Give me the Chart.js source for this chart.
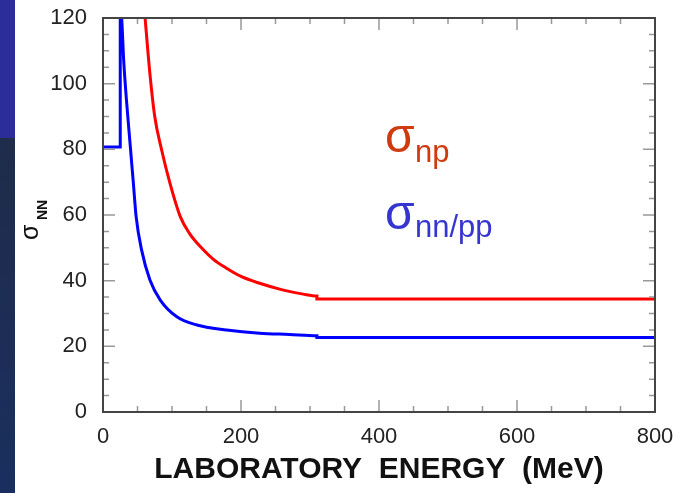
<!DOCTYPE html>
<html>
<head>
<meta charset="utf-8">
<title>Nucleon-nucleon cross sections</title>
<script src="https://cdn.jsdelivr.net/npm/chart.js@4/dist/chart.umd.min.js"></script>
<style>
  html, body { margin: 0; padding: 0; background: #fff; }
  #wrap { width: 687px; height: 493px; }
</style>
</head>
<body>
<div id="wrap"><canvas id="xsec" width="687" height="493"></canvas></div>
<script>
// lab energy (MeV) and cross section (mb), np channel
const energyNp = [57, 61, 68, 75, 85, 97, 112, 125, 141, 160, 179, 200, 227, 260, 290, 310, 310, 800];
const sigmaNp  = [130, 120, 103, 90, 79.8, 69.7, 59.5, 54.5, 50.4, 46.5, 43.8, 41.3, 39.2, 37.2, 35.9, 35.3, 34.4, 34.4];

// nn / pp channel
const energyPp = [0, 25, 25, 27, 30, 34, 40, 44, 48, 56, 68, 83, 107, 136, 179, 227, 270, 310, 310, 800];
const sigmaPp  = [80.7, 80.7, 122, 120, 107, 95, 79.8, 69.7, 59.5, 49.3, 40.2, 34.1, 29.0, 26.5, 25.0, 24.0, 23.6, 23.2, 22.7, 22.7];

const xTicks = [0, 200, 400, 600, 800];
const yTicks = [0, 20, 40, 60, 80, 100, 120];

const toPoints = (xs, ys) => xs.map((x, i) => ({ x: x, y: ys[i] }));

const FONT = "'Liberation Sans', Arial, Helvetica, sans-serif";

// slide strip on the left, frame, inward ticks and text labels
const decor = {
  id: "decor",
  beforeDraw(chart) {
    const ctx = chart.ctx;
    ctx.save();
    ctx.fillStyle = "#2c2c9a";
    ctx.fillRect(0, 0, 15, 138);
    const g = ctx.createLinearGradient(0, 138, 0, 493);
    g.addColorStop(0, "#1f2c4a");
    g.addColorStop(1, "#1a2f60");
    ctx.fillStyle = g;
    ctx.fillRect(0, 138, 15, 355);
    ctx.restore();
  },
  afterDraw(chart) {
    const ctx = chart.ctx;
    const { left, right, top, bottom } = chart.chartArea;
    const xs = chart.scales.x, ys = chart.scales.y;
    ctx.save();

    // ticks, pointing into the plot on all four sides
    ctx.strokeStyle = "#999";
    ctx.lineWidth = 1.5;
    ctx.beginPath();
    for (let v = 50; v < 800; v += 50) {
      const px = xs.getPixelForValue(v);
      const len = v % 200 === 0 ? 12 : 6;
      ctx.moveTo(px, bottom); ctx.lineTo(px, bottom - len);
      ctx.moveTo(px, top); ctx.lineTo(px, top + len);
    }
    for (let v = 5; v < 120; v += 5) {
      const py = ys.getPixelForValue(v);
      const len = v % 20 === 0 ? 12 : 6;
      ctx.moveTo(left, py); ctx.lineTo(left + len, py);
      ctx.moveTo(right, py); ctx.lineTo(right - len, py);
    }
    ctx.stroke();

    // frame
    ctx.strokeStyle = "#444";
    ctx.lineWidth = 2;
    ctx.strokeRect(left, top, right - left, bottom - top);

    // y axis title: sigma with bold NN subscript, rotated
    ctx.translate(38, 240);
    ctx.rotate(-Math.PI / 2);
    ctx.fillStyle = "#111";
    ctx.textBaseline = "alphabetic";
    ctx.font = "25px " + FONT;
    ctx.fillText("σ", 0, 0);
    ctx.font = "bold 14px " + FONT;
    ctx.fillText("NN", 20, 9);
    ctx.setTransform(1, 0, 0, 1, 0, 0);

    // curve labels
    ctx.font = "48px " + FONT;
    ctx.fillStyle = "#d03a10";
    ctx.fillText("σ", 385, 152);
    ctx.fillStyle = "#3535d0";
    ctx.fillText("σ", 385, 229);
    ctx.font = "31px " + FONT;
    ctx.fillStyle = "#d03a10";
    ctx.fillText("np", 415, 162);
    ctx.fillStyle = "#3535d0";
    ctx.fillText("nn/pp", 415, 237);
    ctx.restore();
  }
};

new Chart(document.getElementById("xsec"), {
  type: "line",
  data: {
    datasets: [
      {
        label: "np",
        data: toPoints(energyNp, sigmaNp),
        borderColor: "#ff0000",
        borderWidth: 3,
        pointRadius: 0,
        cubicInterpolationMode: "monotone",
        clip: 0
      },
      {
        label: "nn/pp",
        data: toPoints(energyPp, sigmaPp),
        borderColor: "#0000ff",
        borderWidth: 3,
        pointRadius: 0,
        cubicInterpolationMode: "monotone",
        clip: 0
      }
    ]
  },
  options: {
    responsive: false,
    animation: false,
    events: [],
    layout: { padding: { top: 18, right: 32, left: 0, bottom: 0 } },
    plugins: { legend: { display: false }, tooltip: { enabled: false } },
    scales: {
      x: {
        type: "linear",
        min: 0,
        max: 800,
        afterBuildTicks: (s) => { s.ticks = xTicks.map(v => ({ value: v })); },
        afterFit: (s) => { s.height = 81; },
        grid: { display: false, drawTicks: false },
        border: { display: false },
        ticks: { color: "#222", padding: 12, font: { family: FONT, size: 22 } },
        title: {
          display: true,
          text: "LABORATORY  ENERGY  (MeV)",
          color: "#111",
          font: { family: FONT, size: 30, weight: "bold", lineHeight: 1 },
          padding: { top: 0, bottom: 8 }
        }
      },
      y: {
        min: 0,
        max: 120,
        afterBuildTicks: (s) => { s.ticks = yTicks.map(v => ({ value: v })); },
        afterFit: (s) => { s.width = 103; s.paddingTop = 0; s.paddingBottom = 0; },
        grid: { display: false, drawTicks: false },
        border: { display: false },
        ticks: { color: "#222", padding: 16, font: { family: FONT, size: 22 } }
      }
    }
  },
  plugins: [decor]
});
</script>
</body>
</html>
